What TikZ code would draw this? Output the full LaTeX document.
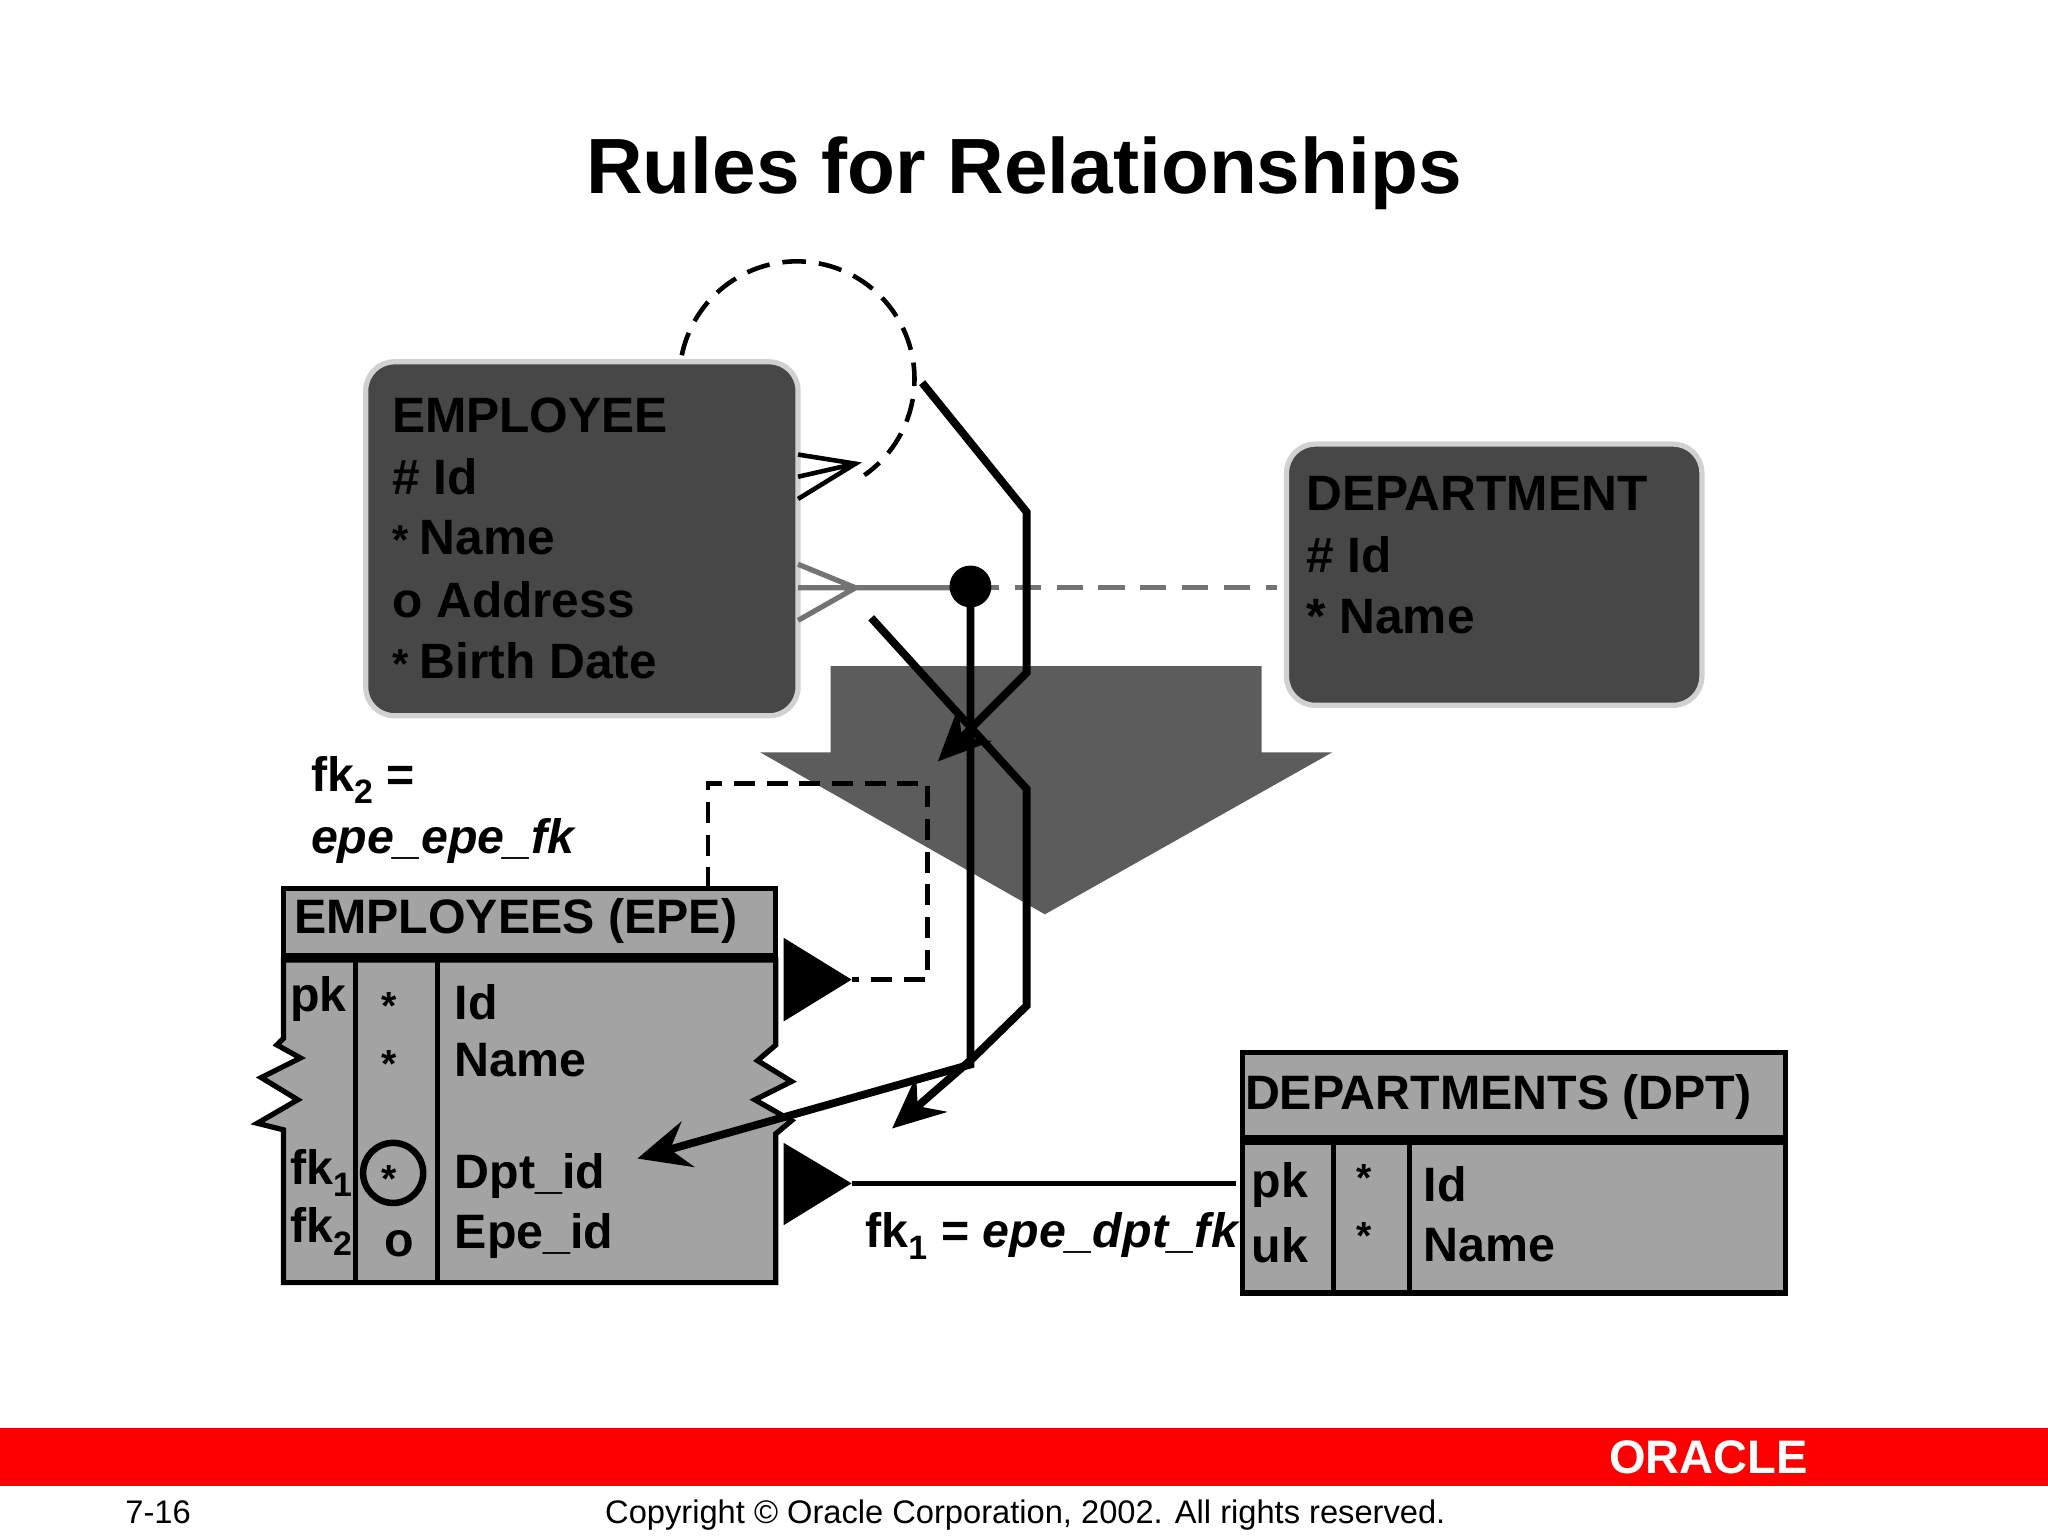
\documentclass[tikz,border=0pt]{standalone}
\usepackage{fontspec}
\setmainfont{Liberation Sans}
\usetikzlibrary{arrows.meta}
\begin{document}
\begin{tikzpicture}[x=1pt,y=-1pt,
 lbl/.style={anchor=west,font=\fontsize{38}{40}\selectfont\bfseries,inner sep=0},
 tlbl/.style={anchor=west,font=\fontsize{37}{40}\selectfont\bfseries,inner sep=0},
 ent/.style={fill=black!72,draw=black!18,line width=4,rounded corners=22},
 tab/.style={fill=black!36,draw=black,line width=4},
 rel/.style={line width=6,black},
 tip/.style={-{Stealth[length=40,width=36,inset=14]}}]
\useasboundingbox (0,0) rectangle (1568,1176);
\node[font=\fontsize{60}{64}\selectfont\bfseries] (title) at (784,133) {Rules for Relationships};
% entities
\draw[ent] (280,277) rectangle (611,548);
\node[lbl] (e1) at (300,318) {EMPLOYEE};
\node[lbl] (e2) at (300,365) {\# Id};
\node[lbl] (e3) at (300,412) {\fontsize{32}{30}\selectfont* \fontsize{38}{40}\selectfont Name};
\node[lbl] (e4) at (300,459) {o Address};
\node[lbl] (e5) at (300,506) {\fontsize{32}{30}\selectfont* \fontsize{38}{40}\selectfont Birth Date};
\draw[ent] (985,340) rectangle (1303,540);
\node[lbl] (d1) at (1000,378) {DEPARTMENT};
\node[lbl] (d2) at (1000,425) {\# Id};
\node[lbl] (d3) at (1000,472) {* Name};
% self relationship
\draw[black,line width=3.5,dash pattern=on 18 off 10] (522,272) arc[start angle=191.6,end angle=415,radius=90];
\draw[black,line width=3.5] (611,348)--(655,355)--(611,382) (611,365)--(655,355);
% dept relationship
\draw[black!55,line width=4] (611,432)--(655,450)--(611,475) (611,450)--(745,450);
\draw[black!55,line width=4,dash pattern=on 20 off 12] (745,450)--(978,450);
% big arrow
\fill[black!64] (636,510)--(966,510)--(966,576)--(1020,576)--(800,700)--(582,576)--(636,576)--cycle;
% employees table
\draw[tab] (217,680) rectangle (594,732);
\node[tlbl] (t1) at (225,705) {EMPLOYEES (EPE)};
\draw[tab] (217,735)--(594,735)--(594,800)--(580,812)--(606,828)--(578,842)--(606,858)--(594,868)--(594,982)--(217,982)--(217,865)--(197,860)--(228,842)--(200,825)--(230,810)--(212,800)--(217,795)--cycle;
\draw[black,line width=4] (272,735)--(272,982) (335,735)--(335,982);
\node[tlbl] at (222,765) {pk};
\node[tlbl] at (222,898) {fk\textsubscript{1}};
\node[tlbl] at (222,943) {fk\textsubscript{2}};
\node[tlbl] at (292,770) {\fontsize{30}{30}\selectfont*};
\node[tlbl] at (292,815) {\fontsize{30}{30}\selectfont*};
\node[tlbl] at (292,903) {\fontsize{30}{30}\selectfont*};
\node[tlbl] at (294,952) {o};
\draw[black,line width=5] (301,898) circle (23);
\node[tlbl] at (348,767) {Id};
\node[tlbl] at (348,812) {Name};
\node[tlbl] (dptid) at (348,900) {Dpt\_id};
\node[tlbl] at (348,946) {Epe\_id};
\node[tlbl] at (238,597) {fk\textsubscript{2} =};
\node[tlbl] at (238,644) {\itshape epe\_epe\_fk};
% self FK
\fill (600,718)--(600,782)--(652,750)--cycle;
\draw[black,line width=3.5,dash pattern=on 16 off 9] (542,680)--(542,600)--(710,600)--(710,750)--(652,750);
% departments table
\draw[tab] (951,806) rectangle (1367,871);
\node[tlbl] (t2) at (953,840) {DEPARTMENTS (DPT)};
\draw[tab] (951,875) rectangle (1367,990);
\draw[black,line width=4] (1021,875)--(1021,990) (1079,875)--(1079,990);
\node[tlbl] at (958,907) {pk};
\node[tlbl] at (958,953) {uk};
\node[tlbl] at (1038,902) {\fontsize{30}{30}\selectfont*};
\node[tlbl] at (1038,946) {\fontsize{30}{30}\selectfont*};
\node[tlbl] at (1090,907) {Id};
\node[tlbl] at (1090,953) {Name};
\fill (600,875)--(600,938)--(652,906)--cycle;
\draw[black,line width=3.5] (652,906)--(946,906);
\node[tlbl,anchor=east] at (948,946) {fk\textsubscript{1} = \itshape epe\_dpt\_fk};
% transformation lines
\coordinate (dot) at (743,449);
\draw[rel,tip] (706,293)--(786,392)--(786,515)--(718,583);
\draw[rel,tip] (667,473)--(786,604)--(786,770)--(745,810)--(683,864);
\draw[rel,tip] (dot)--(743,815)--(488,887);
\fill (dot) circle (16);
% footer
\fill[red] (0,1093) rectangle (1568,1138);
\node[text=white,font=\fontsize{36}{36}\selectfont\bfseries] (logo) at (1308,1116) {ORACLE};
\node[font=\fontsize{25}{28}\selectfont] (pg) at (121,1158) {7-16};
\node[font=\fontsize{25}{28}\selectfont] (copy) at (785,1160) {Copyright © Oracle Corporation, 2002. All rights reserved.};
\end{tikzpicture}
\end{document}
